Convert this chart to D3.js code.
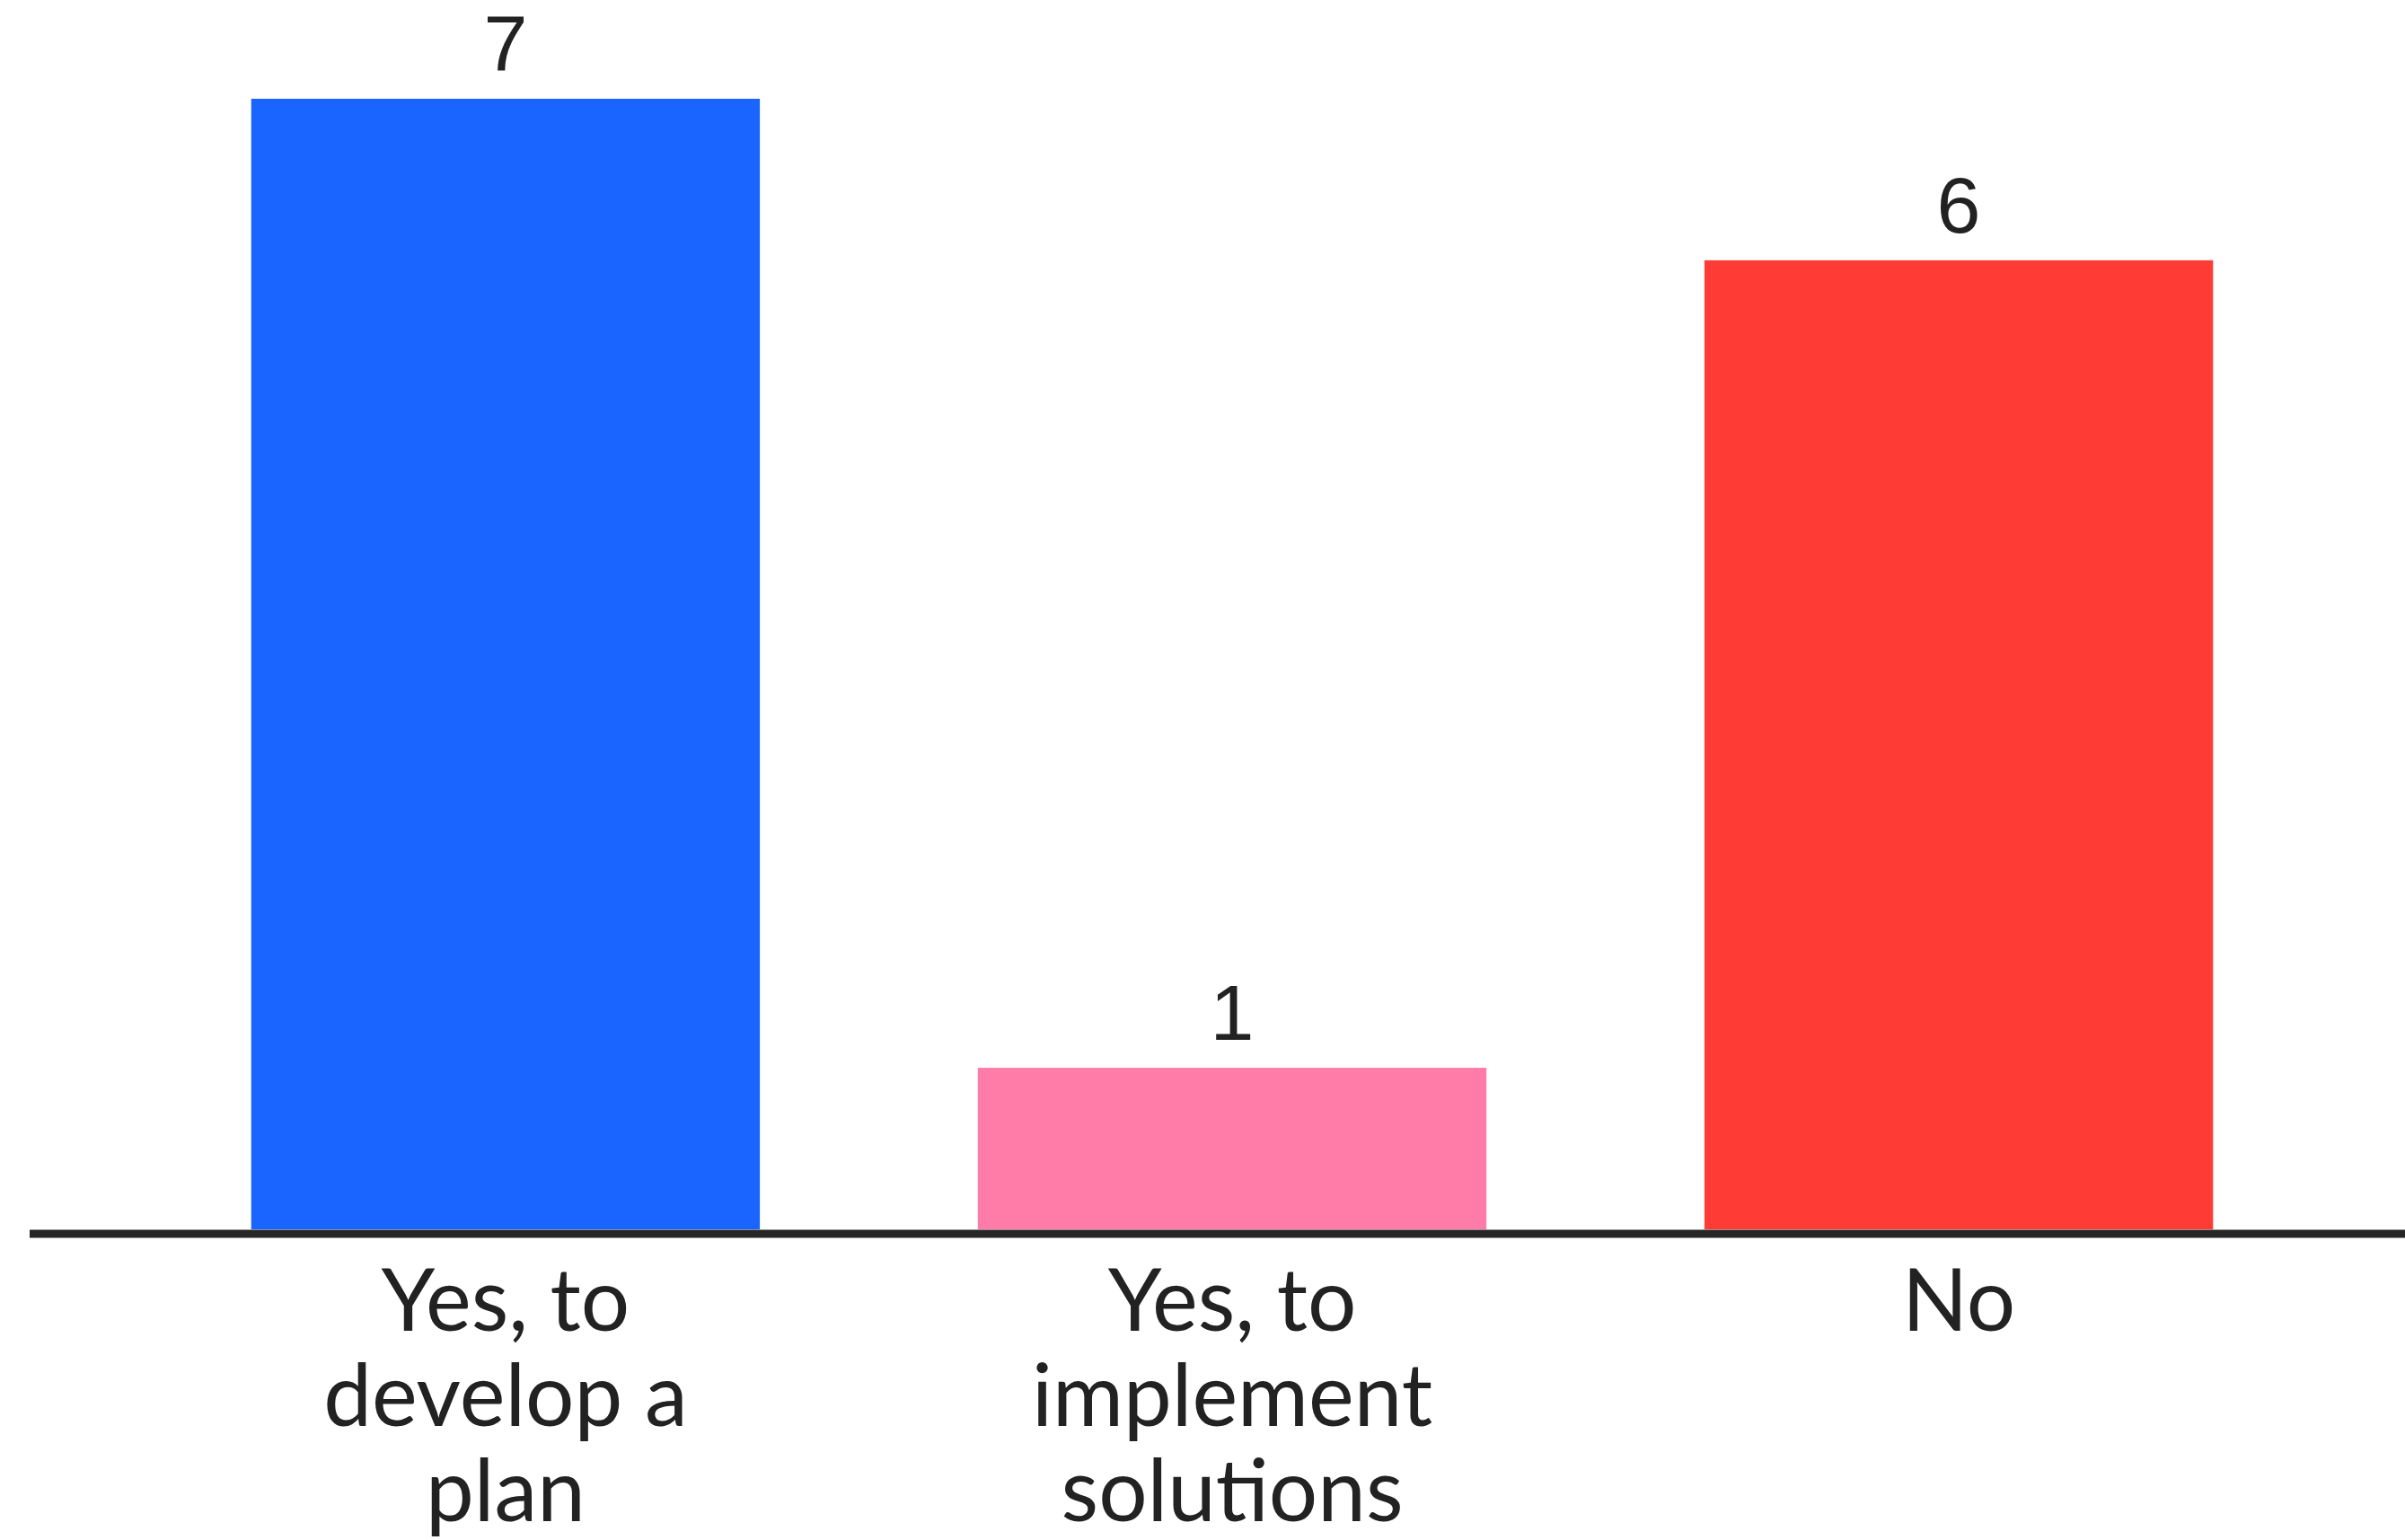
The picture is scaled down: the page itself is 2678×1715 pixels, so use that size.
<!DOCTYPE html>
<html>
<head>
<meta charset="utf-8">
<script src="https://cdn.jsdelivr.net/npm/d3@7"></script>
<style>
  html, body { margin: 0; padding: 0; background: #ffffff; }
  svg { display: block; }
</style>
</head>
<body>
<script>
// Survey responses
const categories = ["Yes, to develop a plan", "Yes, to implement solutions", "No"];
const counts = [7, 1, 6];
const barColors = ["#1a64ff", "#ff7ba8", "#ff3b36"];
const tickLabels = [
  ["Yes, to", "develop a", "plan"],
  ["Yes, to", "implement", "solutions"],
  ["No"]
];

const width = 2678, height = 1715;
const baseline = 1369;

const svg = d3.select("body").append("svg")
  .attr("width", width)
  .attr("height", height);

const x = d3.scaleBand()
  .domain(categories)
  .range([37, 2707])
  .paddingInner(0.3)
  .paddingOuter(0.3);

const y = d3.scaleLinear()
  .domain([0, 7])
  .range([baseline, 110]);

// bars
svg.append("g")
  .selectAll("rect")
  .data(categories)
  .join("rect")
  .attr("x", d => x(d))
  .attr("width", x.bandwidth())
  .attr("y", (d, i) => y(counts[i]))
  .attr("height", (d, i) => y(0) - y(counts[i]))
  .attr("fill", (d, i) => barColors[i]);

// value labels
svg.append("g")
  .selectAll("text")
  .data(categories)
  .join("text")
  .attr("x", d => x(d) + x.bandwidth() / 2)
  .attr("y", (d, i) => y(counts[i]) - 31)
  .attr("text-anchor", "middle")
  .attr("font-family", "Liberation Sans, Arial, sans-serif")
  .attr("font-size", 88)
  .attr("fill", "#222222")
  .text((d, i) => counts[i]);

// category axis
const axis = svg.append("g")
  .attr("transform", `translate(0,${baseline})`)
  .call(d3.axisBottom(x).tickSize(0).tickFormat(""));
axis.select(".domain").remove();

axis.selectAll(".tick").each(function(d, i) {
  const t = d3.select(this).append("text")
    .attr("text-anchor", "middle")
    .attr("font-family", "Lato, 'Noto Sans', sans-serif")
    .attr("font-size", 96)
    .attr("fill", "#222222");
  tickLabels[i].forEach((line, j) => {
    t.append("tspan")
      .attr("x", 0)
      .attr("y", 113 + j * 106)
      .text(line);
  });
});

// baseline rule
svg.append("line")
  .attr("x1", 33)
  .attr("x2", width)
  .attr("y1", baseline + 5)
  .attr("y2", baseline + 5)
  .attr("stroke", "#262626")
  .attr("stroke-width", 9);
</script>
</body>
</html>
